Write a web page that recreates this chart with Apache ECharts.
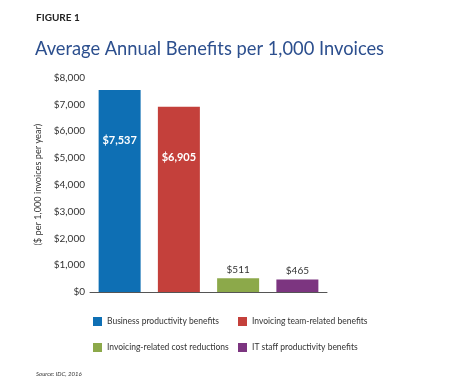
<!DOCTYPE html>
<html><head><meta charset="utf-8">
<script src="https://cdn.jsdelivr.net/npm/echarts@6/dist/echarts.min.js"></script>
<style>html,body{margin:0;padding:0;background:#fff}#c{width:475px;height:388px}</style>
</head><body><div id="c"></div>
<script>
const categories = ['Business productivity benefits','Invoicing team-related benefits','Invoicing-related cost reductions','IT staff productivity benefits'];
const values = [7537, 6905, 511, 465];
const colors = ['#0e6fb4','#c4403b','#8ca94a','#7c3580'];
const yTicks = [0,1000,2000,3000,4000,5000,6000,7000,8000];
const fmt = v => '$' + v.toLocaleString('en-US');
const font = 'Lato, sans-serif';

const series = categories.map((name, i) => ({
  name, type: 'bar', stack: 'all', barWidth: 42,
  data: categories.map((_, j) => j === i ? values[i] : '-'),
  itemStyle: { color: colors[i] },
  label: values[i] > 2000
    ? { show: true, position: 'insideTop', distance: 45, color: '#fff', fontWeight: 'bold', fontSize: 11, fontFamily: font, formatter: p => fmt(p.value) }
    : { show: true, position: 'top', distance: 4, color: '#333', fontSize: 10, fontFamily: font, formatter: p => fmt(p.value) }
}));

const legendPos = [[88,312],[233,312],[88,338],[233,338]];
const legends = categories.map((name, i) => ({
  data: [name], left: legendPos[i][0], top: legendPos[i][1],
  itemWidth: 9, itemHeight: 9, itemGap: 6, icon: 'rect',
  textStyle: { fontSize: 8.5, color: '#333', fontFamily: font }
}));

const chart = echarts.init(document.getElementById('c'));
chart.setOption({
  animation: false,
  title: [
    { text: 'FIGURE 1', left: 31, top: 8, textStyle: { fontSize: 10, fontWeight: 'bold', color: '#222', fontFamily: font } },
    { text: 'Average Annual Benefits per 1,000 Invoices', left: 30, top: 35, textStyle: { fontSize: 18.3, fontWeight: 'normal', color: '#2c4f8e', fontFamily: font } },
    { text: 'Source: IDC, 2016', left: 31, top: 366, textStyle: { fontSize: 6, fontStyle: 'italic', fontWeight: 'normal', color: '#333', fontFamily: font } }
  ],
  legend: legends,
  grid: { left: 90, top: 77.5, width: 237, height: 214.5, containLabel: false },
  xAxis: {
    type: 'category', data: categories,
    axisLine: { lineStyle: { color: '#555', width: 1 } },
    axisTick: { show: false }, axisLabel: { show: false }
  },
  yAxis: {
    type: 'value', min: 0, max: 8000, interval: 1000,
    name: '($ per 1,000 invoices per year)', nameLocation: 'middle', nameRotate: 90, nameGap: 47,
    nameTextStyle: { fontSize: 9.2, color: '#333', fontFamily: font },
    axisLine: { show: false }, axisTick: { show: false }, splitLine: { show: false },
    axisLabel: { fontSize: 10, color: '#333', margin: 5, fontFamily: font, formatter: v => fmt(v) }
  },
  series
});
</script></body></html>
